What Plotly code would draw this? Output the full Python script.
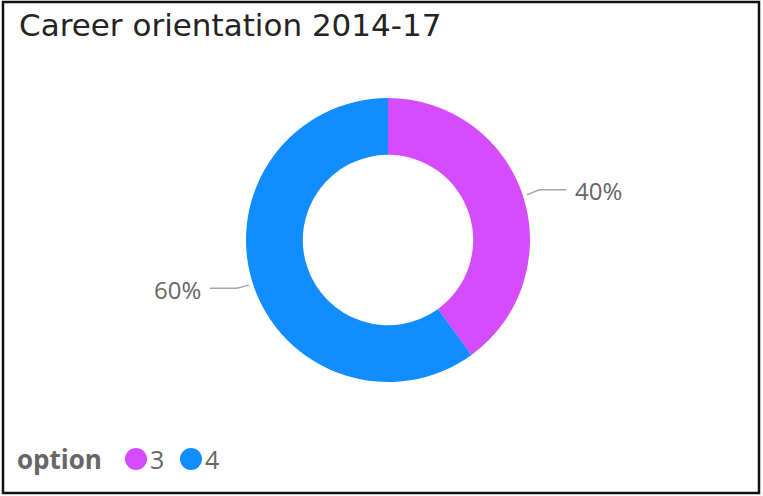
import numpy as np
import plotly.graph_objects as go

# data
labels = ['3', '4']
values = [40, 60]
colors = ['#D44CFC', '#118DFF']
title_text = 'Career orientation 2014-17'
legend_title = 'option'

W, H = 763, 496
cx, cy = 388, 240      # donut centre in px (from top-left)
r_out = 142


def px(x, y):
    # pixel position -> paper coords
    return x / W, 1 - y / H


fig = go.Figure()

fig.add_trace(go.Pie(
    labels=labels, values=values,
    marker=dict(colors=colors, line=dict(width=0)),
    hole=0.6, sort=False, direction='clockwise', rotation=0,
    textinfo='none', hoverinfo='label+percent', showlegend=False,
    domain=dict(x=[(cx - 170) / W, (cx + 170) / W],
                y=[(H - cy - r_out) / H, (H - cy + r_out) / H]),
))

# outside labels with leader lines, placed from the slice mid-angles
total = sum(values)
shapes = []
annotations = []
start = 0.0
for v in values:
    mid = (start + v / 2) / total * 2 * np.pi   # clockwise from 12 o'clock
    start += v
    dx, dy = np.sin(mid), -np.cos(mid)
    side = 1 if dx >= 0 else -1
    x0, y0 = cx + (r_out + 4) * dx, cy + (r_out + 4) * dy
    x1, y1 = cx + (r_out + 17) * dx, cy + (r_out + 17) * dy - 1
    x2 = x1 + side * 27
    pts = [(x0, y0), (x1, y1), (x2, y1)]
    path = 'M ' + ' L '.join('%.5f,%.5f' % px(a, b) for a, b in pts)
    shapes.append(dict(type='path', xref='paper', yref='paper', path=path,
                       line=dict(color='#A6A6A6', width=1.5)))
    tx, ty = px(x2 + side * 7, y1 + 1)
    annotations.append(dict(xref='paper', yref='paper', x=tx, y=ty,
                            xanchor='left' if side > 0 else 'right', yanchor='middle',
                            text='%d%%' % round(v / total * 100), showarrow=False,
                            font=dict(family='Open Sans', size=24, color='#666666')))

# title
tx, ty = px(17, 25)
annotations.append(dict(xref='paper', yref='paper', x=tx, y=ty,
                        xanchor='left', yanchor='middle', text=title_text, showarrow=False,
                        font=dict(family='DejaVu Sans', size=31, color='#252423')))

# legend: bold title, then coloured circles with labels
ly = 459
tx, ty = px(15, ly)
annotations.append(dict(xref='paper', yref='paper', x=tx, y=ty,
                        xanchor='left', yanchor='middle', text='<b>' + legend_title + '</b>',
                        showarrow=False,
                        font=dict(family='Open Sans', size=26, color='#666666')))
lx = 125
for lab, col in zip(labels, colors):
    a0, b0 = px(lx, ly - 11)
    a1, b1 = px(lx + 22, ly + 11)
    shapes.append(dict(type='circle', xref='paper', yref='paper',
                       x0=a0, x1=a1, y0=b1, y1=b0,
                       fillcolor=col, line=dict(width=0)))
    tx, ty = px(lx + 23, ly)
    annotations.append(dict(xref='paper', yref='paper', x=tx, y=ty,
                            xanchor='left', yanchor='middle', text=lab, showarrow=False,
                            font=dict(family='Open Sans', size=25, color='#666666')))
    lx += 55

# frame
a0, b0 = px(3, 2)
a1, b1 = px(759, 493)
shapes.append(dict(type='rect', xref='paper', yref='paper',
                   x0=a0, x1=a1, y0=b1, y1=b0,
                   line=dict(color='#111111', width=2.5)))

fig.update_layout(
    width=W, height=H,
    margin=dict(l=0, r=0, t=0, b=0),
    paper_bgcolor='white', plot_bgcolor='white',
    showlegend=False,
    shapes=shapes,
    annotations=annotations,
)

fig.write_html('out.html', config={'displayModeBar': False},
               post_script="document.body.style.margin='0';")
